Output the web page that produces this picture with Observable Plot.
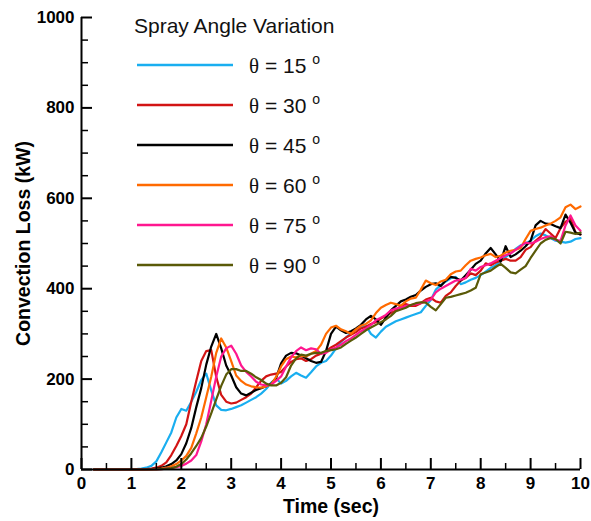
<!DOCTYPE html>
<html>
<head>
<meta charset="utf-8">
<script src="https://cdn.jsdelivr.net/npm/d3@7"></script>
<script src="https://cdn.jsdelivr.net/npm/@observablehq/plot@0.6"></script>
<style>
  html, body { margin: 0; padding: 0; background: #fff; }
  #wrap { position: relative; width: 591px; height: 521px; font-family: "Liberation Sans", Arial, Helvetica, sans-serif; }
  #legend { position: absolute; left: 0; top: 0; pointer-events: none; }
</style>
</head>
<body>
<div id="wrap"></div>
<script>
// Time grid (sec)
const times = [0.25,
  1.0,1.1,1.2,1.3,1.4,1.5,1.6,1.7,1.8,1.9,
  2.0,2.1,2.2,2.3,2.4,2.5,2.6,2.7,2.8,2.9,
  3.0,3.1,3.2,3.3,3.4,3.5,3.6,3.7,3.8,3.9,
  4.0,4.1,4.2,4.3,4.4,4.5,4.6,4.7,4.8,4.9,
  5.0,5.1,5.2,5.3,5.4,5.5,5.6,5.7,5.8,5.9,
  6.0,6.1,6.2,6.3,6.4,6.5,6.6,6.7,6.8,6.9,
  7.0,7.1,7.2,7.3,7.4,7.5,7.6,7.7,7.8,7.9,
  8.0,8.1,8.2,8.3,8.4,8.5,8.6,8.7,8.8,8.9,
  9.0,9.1,9.2,9.3,9.4,9.5,9.6,9.7,9.8,9.9,
  10.0];

// Convection loss (kW) for each spray angle
const theta15 = [0,
  0,1,2,4,8,18,38,60,82,115,
  134,130,150,172,198,212,175,142,132,131,
  134,138,142,148,154,160,168,178,192,202,
  190,196,206,214,208,203,215,228,236,240,
  252,268,282,292,302,310,314,318,300,292,
  305,316,322,328,332,336,340,344,348,362,
  375,398,408,416,423,426,410,414,420,424,
  430,438,446,452,462,470,478,488,496,500,
  506,516,522,518,512,506,504,502,504,510,
  512];
const theta30 = [0,
  0,0,0,1,2,4,8,16,32,52,
  74,100,150,196,240,262,264,205,165,150,
  146,148,154,160,168,182,196,206,210,212,
  216,228,238,244,246,240,244,252,256,262,
  270,276,284,292,298,304,312,316,322,326,
  334,340,346,352,362,366,362,362,368,376,
  380,372,369,384,392,406,418,424,434,430,
  440,456,452,458,462,466,462,462,470,486,
  492,506,515,532,522,512,534,548,556,524,
  520];
const theta45 = [0,
  0,0,0,0,1,2,4,7,12,20,
  34,58,92,138,180,232,272,300,268,230,
  208,182,168,164,170,176,180,184,190,202,
  235,252,258,257,252,246,240,236,238,262,
  300,316,308,302,306,312,320,332,340,332,
  320,336,352,362,372,376,382,386,396,404,
  410,412,406,418,426,424,418,430,442,455,
  462,478,490,476,460,494,470,476,484,494,
  506,540,550,544,543,538,534,564,546,524,
  520];
const theta60 = [0,
  0,0,0,0,0,1,2,4,7,12,
  20,30,48,80,115,160,205,258,290,270,
  240,208,196,188,184,182,181,184,188,205,
  228,244,250,248,252,250,256,262,276,300,
  314,318,310,306,300,310,318,322,330,346,
  358,364,369,366,362,372,378,380,398,418,
  412,408,416,420,432,438,440,452,462,466,
  469,474,477,470,473,480,484,486,490,510,
  528,532,535,540,544,550,558,580,586,576,
  582];
const theta75 = [0,
  0,0,0,0,0,0,1,2,3,5,
  8,13,20,32,62,100,152,205,250,268,
  274,256,230,216,206,194,188,186,188,196,
  206,228,248,262,270,264,268,266,256,258,
  266,270,276,284,290,298,306,312,320,330,
  336,342,352,356,358,362,364,366,368,372,
  376,392,400,406,412,418,420,424,444,440,
  448,452,456,462,468,474,478,486,494,502,
  500,504,510,514,516,508,506,540,562,540,
  528];
const theta90 = [0,
  0,0,0,0,0,0,1,2,3,6,
  12,22,36,52,70,95,124,155,185,210,
  222,222,218,218,212,204,198,190,186,186,
  192,204,230,246,254,252,256,258,258,262,
  264,266,270,278,285,292,300,308,314,320,
  326,332,340,350,354,358,364,368,370,369,
  360,352,366,380,382,385,388,391,396,402,
  432,436,440,448,455,446,436,434,442,450,
  468,484,500,508,512,510,500,526,524,521,
  524];

const seriesNames = ["θ = 15", "θ = 30", "θ = 45", "θ = 60", "θ = 75", "θ = 90"];
const seriesAngles = ["15", "30", "45", "60", "75", "90"];
const seriesValues = [theta15, theta30, theta45, theta60, theta75, theta90];
const seriesColors = ["#19aef0", "#d21414", "#000000", "#ff6a00", "#ff178f", "#5a5a08"];

const xMajorTicks = [0,1,2,3,4,5,6,7,8,9,10];
const xMinorTicks = [0.5,1.5,2.5,3.5,4.5,5.5,6.5,7.5,8.5,9.5];
const yMajorTicks = [0,200,400,600,800,1000];
const yMinorTicks = [50,100,150,250,300,350,450,500,550,650,700,750,850,900,950];

const legendTitle = "Spray Angle Variation";
const xTitle = "Time (sec)";
const yTitle = "Convection Loss (kW)";

const rows = [];
seriesValues.forEach((vals, si) => {
  vals.forEach((v, i) => rows.push({t: times[i], v, s: seriesNames[si]}));
});

const lineMarks = seriesNames.map((name, si) =>
  Plot.line(rows.filter(r => r.s === name), {x: "t", y: "v", stroke: seriesColors[si], strokeWidth: 2.2, curve: "linear"})
);

const font = "'Liberation Sans', Arial, Helvetica, sans-serif";
const plain = d => String(d);

const chart = Plot.plot({
  width: 591,
  height: 521,
  marginLeft: 81,
  marginRight: 11,
  marginTop: 17,
  marginBottom: 52,
  style: {fontFamily: font, background: "#fff", color: "#000", overflow: "visible"},
  x: {domain: [0, 10], label: null},
  y: {domain: [0, 1000], label: null},
  marks: [
    ...lineMarks,
    Plot.axisX(xMajorTicks, {tickSize: -11, tickFormat: () => "", strokeWidth: 2, label: null}),
    Plot.axisX(xMinorTicks, {tickSize: -6, tickFormat: () => "", strokeWidth: 1.5, label: null}),
    Plot.axisX(xMajorTicks, {tickSize: 0, tickPadding: 7, tickFormat: plain, fontSize: 17, fontWeight: "bold", label: null}),
    Plot.axisY(yMajorTicks, {tickSize: -11, tickFormat: () => "", strokeWidth: 2, label: null}),
    Plot.axisY(yMinorTicks, {tickSize: -7, tickFormat: () => "", strokeWidth: 1.5, label: null}),
    Plot.axisY(yMajorTicks, {tickSize: 0, tickPadding: 7, tickFormat: plain, fontSize: 17, fontWeight: "bold", label: null}),
    Plot.ruleY([0], {stroke: "#000", strokeWidth: 2}),
    Plot.ruleX([0], {stroke: "#000", strokeWidth: 2}),
    Plot.text([xTitle], {frameAnchor: "bottom", textAnchor: "middle", lineAnchor: "middle", dy: 37, fontSize: 19.5, fontWeight: "bold", fill: "#000"}),
    Plot.text([yTitle], {frameAnchor: "left", textAnchor: "middle", lineAnchor: "middle", dx: -58, rotate: -90, fontSize: 19.5, fontWeight: "bold", fill: "#000"})
  ]
});

const wrap = document.getElementById("wrap");
wrap.appendChild(chart);

// Legend overlay
const leg = d3.select(wrap).append("svg")
  .attr("id", "legend")
  .attr("width", 591).attr("height", 521)
  .style("font-family", font);

leg.append("text")
  .attr("x", 134).attr("y", 33)
  .attr("font-size", 21)
  .attr("fill", "#111")
  .text(legendTitle);

seriesNames.forEach((name, i) => {
  const cy = 65 + 40 * i;
  leg.append("line")
    .attr("x1", 137).attr("x2", 233)
    .attr("y1", cy).attr("y2", cy)
    .attr("stroke", seriesColors[i]).attr("stroke-width", 2.5);
  const t = leg.append("text")
    .attr("x", 249).attr("y", cy + 7.5)
    .attr("font-size", 21)
    .attr("fill", "#111");
  t.append("tspan").attr("font-family", "'Liberation Serif', 'Times New Roman', serif").text("θ");
  t.append("tspan").text(" = " + seriesAngles[i] + " ");
  t.append("tspan").attr("font-size", 14).attr("dy", -9).text("o");
});
</script>
</body>
</html>
